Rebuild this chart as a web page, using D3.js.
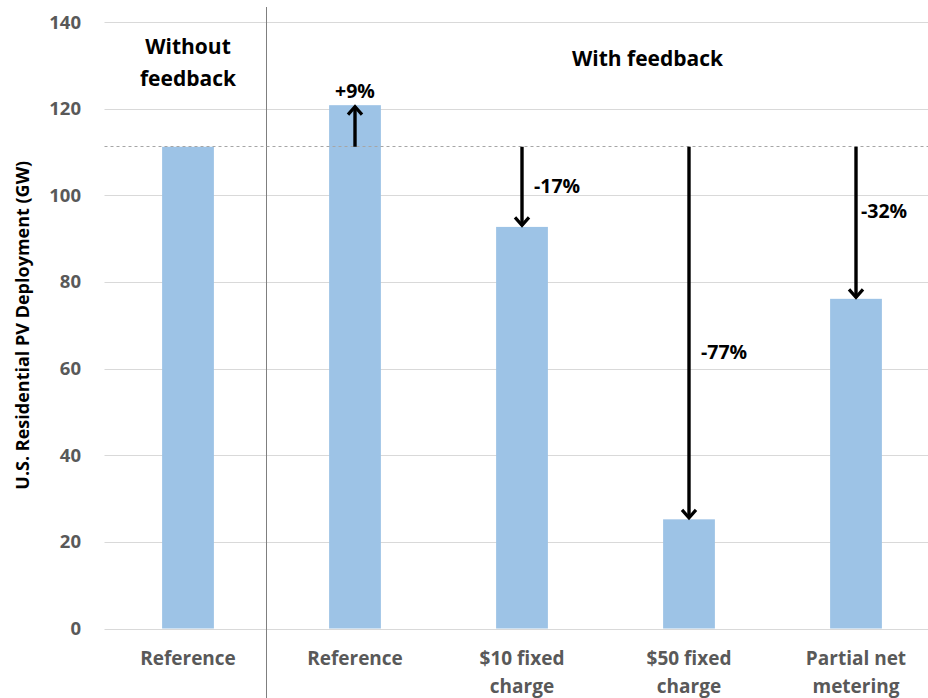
<html>
<head>
<meta http-equiv="Content-Type" content="text/html; charset=utf-8">
<title></title>
<style>
body{ margin:0; background:#fff; }
text{ font-family: "Open Sans", Lato, sans-serif; font-weight: bold; }
.grid line{ stroke:#d9d9d9; stroke-width:1px; }
.tick-label{ fill:#595959; font-size:18.5px; }
.cat-label{ fill:#595959; font-size:19px; }
.bar{ fill:#9dc3e6; }
.arrow{ stroke:#000; stroke-width:3.4px; fill:none; }
</style>
<script src="https://d3js.org/d3.v7.min.js" charset="utf-8"></script>
</head>
<body>
<div id="chart"></div>
<script>
// data
var categories = ["Reference|", "Reference", "$10 fixed|charge", "$50 fixed|charge", "Partial net|metering"];
var values = [111.2, 120.8, 92.7, 25.2, 76.1];
var changes = ["", "+9%", "-17%", "-77%", "-32%"];
var yTicks = [0, 20, 40, 60, 80, 100, 120, 140];
var baseline = 111.2;

var width = 928, height = 698;
var mLeft = 104.5, mRight = 939.5, mTop = 22, mBottom = 628.5;

var x = d3.scaleBand().domain(categories).range([mLeft, mRight])
	.paddingInner(0.69).paddingOuter(0.345);
var y = d3.scaleLinear().domain([0, 140]).range([mBottom, mTop]);

var svg = d3.select("#chart").append("svg")
	.attr("width", width).attr("height", height);

var defs = svg.append("defs");
defs.append("marker")
	.attr("id", "head")
	.attr("viewBox", "-10 -10 20 20")
	.attr("markerWidth", 20).attr("markerHeight", 20)
	.attr("markerUnits", "userSpaceOnUse")
	.attr("refX", 0).attr("refY", 0)
	.attr("orient", "auto")
	.append("path")
	.attr("d", "M-8,-7L0,0L-8,7")
	.attr("fill", "none").attr("stroke", "#000").attr("stroke-width", 3.2);

// gridlines
svg.append("g").attr("class", "grid")
	.selectAll("line").data(yTicks).enter().append("line")
	.attr("x1", mLeft).attr("x2", width)
	.attr("y1", function(d){ return Math.round(y(d)) + 0.5; })
	.attr("y2", function(d){ return Math.round(y(d)) + 0.5; });

svg.append("g").selectAll("text").data(yTicks).enter().append("text")
	.attr("class", "tick-label")
	.attr("x", 81).attr("y", function(d){ return y(d) + 6.5; })
	.attr("text-anchor", "end")
	.text(function(d){ return d; });

// separator between groups
var sepX = Math.round((x(categories[0]) + x.bandwidth() + x(categories[1])) / 2) - 5 + 0.5;
svg.append("line")
	.attr("x1", sepX).attr("x2", sepX).attr("y1", 7).attr("y2", height)
	.attr("stroke", "#7f7f7f").attr("stroke-width", 1);

// bars
svg.selectAll(".bar").data(values).enter().append("rect")
	.attr("class", "bar")
	.attr("x", function(d, i){ return x(categories[i]); })
	.attr("width", x.bandwidth())
	.attr("y", function(d){ return y(d); })
	.attr("height", function(d){ return mBottom - y(d); });

// dashed reference line
svg.append("line")
	.attr("x1", mLeft).attr("x2", width)
	.attr("y1", Math.round(y(baseline)) - 0.5).attr("y2", Math.round(y(baseline)) - 0.5)
	.attr("stroke", "#a6a6a6").attr("stroke-width", 1)
	.attr("stroke-dasharray", "3,3");

// arrows
var cx = function(i){ return x(categories[i]) + x.bandwidth() / 2; };
values.forEach(function(v, i){
	if(i === 0) return;
	svg.append("line").attr("class", "arrow")
		.attr("x1", cx(i)).attr("x2", cx(i))
		.attr("y1", y(baseline)).attr("y2", y(v) + (v > baseline ? 1.5 : -1.5))
		.attr("marker-end", "url(#head)");
});

// change labels
var labelPos = [null, [0, -7, "middle"], [12, 46, "start"], [12, 212, "start"], [5, 71, "start"]];
changes.forEach(function(c, i){
	if(!c) return;
	var p = labelPos[i];
	var yy = i === 1 ? y(values[i]) + p[1] : y(baseline) + p[1];
	svg.append("text")
		.attr("x", cx(i) + p[0]).attr("y", yy)
		.attr("text-anchor", p[2])
		.attr("font-size", 19.5).attr("fill", "#000")
		.text(c);
});

// category labels
categories.forEach(function(c, i){
	var lines = c.split("|").filter(function(s){ return s; });
	var t = svg.append("text").attr("class", "cat-label")
		.attr("text-anchor", "middle")
		.attr("x", cx(i)).attr("y", 665);
	lines.forEach(function(s, j){
		t.append("tspan").attr("x", cx(i)).attr("dy", j ? 28 : 0).text(s);
	});
});

// group titles
var g1 = svg.append("text").attr("text-anchor", "middle").attr("font-size", 21).attr("fill", "#000")
	.attr("x", cx(0)).attr("y", 54);
g1.append("tspan").attr("x", cx(0)).text("Without");
g1.append("tspan").attr("x", cx(0)).attr("dy", 32).text("feedback");

svg.append("text").attr("text-anchor", "middle").attr("font-size", 21).attr("fill", "#000")
	.attr("x", (cx(1) + cx(4)) / 2 + 42).attr("y", 66)
	.text("With feedback");

// y axis title
svg.append("text")
	.attr("transform", "translate(29," + ((mTop + mBottom) / 2) + ") rotate(-90)")
	.attr("text-anchor", "middle").attr("font-size", 18).attr("fill", "#000")
	.text("U.S. Residential PV Deployment (GW)");
</script>
</body>
</html>
